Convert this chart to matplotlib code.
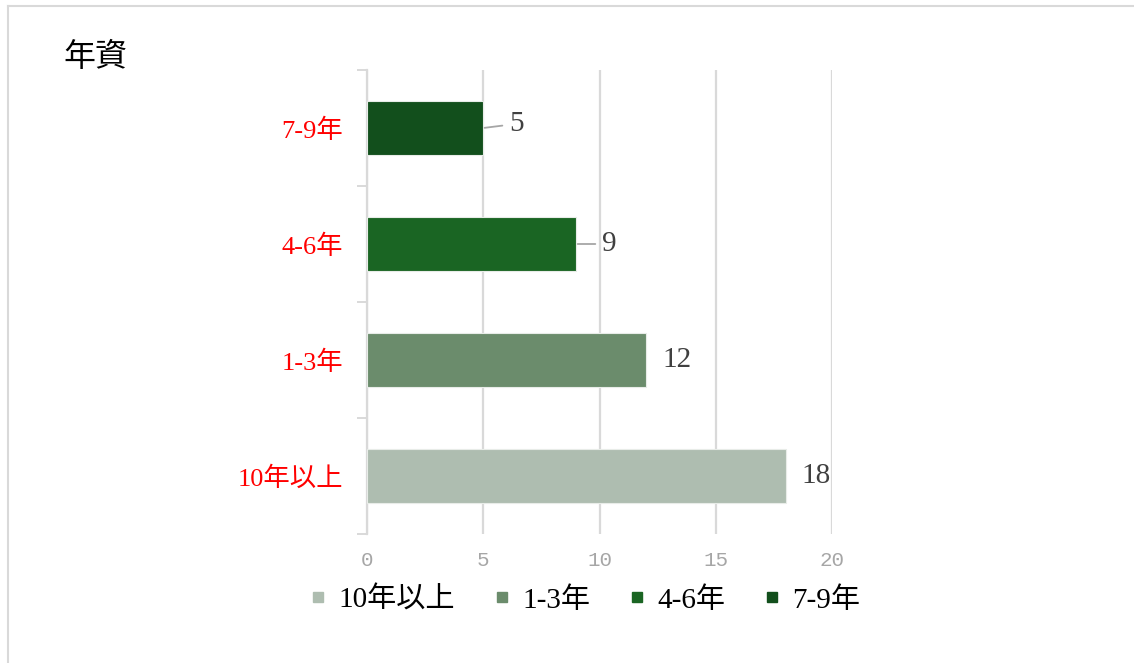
import matplotlib
matplotlib.use("Agg")
import matplotlib.pyplot as plt
from matplotlib.lines import Line2D

plt.rcParams["font.family"] = ["Liberation Serif", "Noto Sans CJK TC", "DejaVu Sans"]

TITLE = "年資"
categories = ["10年以上", "1-3年", "4-6年", "7-9年"]
values = [18, 12, 9, 5]
colors = ["#aebdb0", "#6b8c6c", "#1a6523", "#124f1c"]
x_ticks = [0, 5, 10, 15, 20]
leader_labels = {"4-6年", "7-9年"}

GRID = "#d9d9d9"
TEXT = "#404040"

fig = plt.figure(figsize=(11.34, 6.63), dpi=100)
ax = fig.add_axes([367 / 1134, 129 / 663, 465 / 1134, 464 / 663])

ypos = list(range(len(categories)))
for y, cat, val, col in zip(ypos, categories, values, colors):
    ax.barh(y, val, height=0.465, color=col, edgecolor="#e8ece8", linewidth=0.8, zorder=3)
    if cat in leader_labels:
        ax.annotate(str(val), xy=(val, y), xytext=(24, 3 if val < 6 else 0),
                    textcoords="offset points",
                    ha="center", va="center", fontsize=21, color=TEXT,
                    arrowprops=dict(arrowstyle="-", color="#a6a6a6", lw=1.3,
                                    shrinkA=3, shrinkB=1))
    else:
        ax.annotate(str(val), xy=(val, y), xytext=(22, 0), textcoords="offset points",
                    ha="center", va="center", fontsize=21, color=TEXT)

ax.set_xlim(0, 20)
ax.set_ylim(-0.5, len(categories) - 0.5)
ax.set_xticks(x_ticks)
ax.set_xticklabels([str(t) for t in x_ticks], family="Liberation Mono",
                   fontsize=15, color="#a6a6a6")
ax.tick_params(axis="x", length=0, pad=12)
ax.grid(axis="x", color=GRID, linewidth=1.6, zorder=0)

ax.set_yticks(ypos)
ax.set_yticklabels(categories, fontsize=19, color="red")
ax.tick_params(axis="y", length=0, pad=17)
ax.set_yticks([y - 0.5 for y in range(len(categories) + 1)], minor=True)
ax.tick_params(axis="y", which="minor", length=7, width=1.4, color=GRID)

for side in ["top", "right", "bottom"]:
    ax.spines[side].set_visible(False)
ax.spines["left"].set_color(GRID)
ax.spines["left"].set_linewidth(1.6)

fig.text(63 / 1134, 1 - 57 / 663, TITLE, fontsize=23, va="center", ha="left",
         family=["Noto Sans CJK TC"])

handles = [Line2D([], [], marker="s", linestyle="none", markersize=7,
                  markerfacecolor=c, markeredgecolor=c) for c in colors]
fig.legend(handles, categories, loc="center", ncol=4,
           bbox_to_anchor=(585 / 1134, 1 - 600 / 663), frameon=False,
           fontsize=21, handlelength=0.6, handletextpad=0.4, columnspacing=1.3)

# outer frame (top and left edges)
fig.add_artist(Line2D([8 / 1134, 1], [1 - 6 / 663, 1 - 6 / 663], color=GRID,
                      linewidth=1.5, transform=fig.transFigure))
fig.add_artist(Line2D([8 / 1134, 8 / 1134], [0, 1 - 6 / 663], color=GRID,
                      linewidth=1.5, transform=fig.transFigure))

fig.savefig("out.png", dpi=100, facecolor="white")
